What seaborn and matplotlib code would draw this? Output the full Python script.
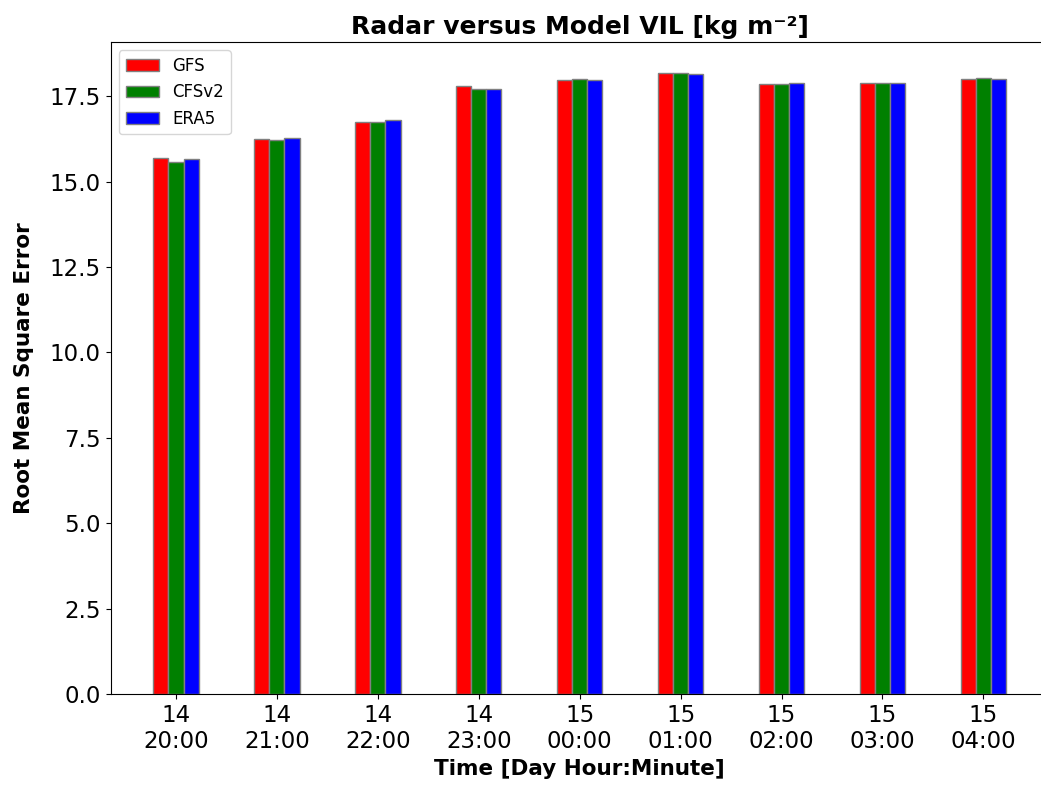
import matplotlib
matplotlib.use("Agg")
import matplotlib.pyplot as plt
import seaborn as sns
import pandas as pd

times = ["14\n20:00", "14\n21:00", "14\n22:00", "14\n23:00", "15\n00:00",
         "15\n01:00", "15\n02:00", "15\n03:00", "15\n04:00"]
models = ["GFS", "CFSv2", "ERA5"]
gfs = [15.70, 16.26, 16.75, 17.79, 17.97, 18.18, 17.86, 17.89, 18.00]
cfsv2 = [15.58, 16.22, 16.75, 17.72, 18.01, 18.18, 17.86, 17.89, 18.04]
era5 = [15.66, 16.29, 16.82, 17.72, 17.97, 18.15, 17.90, 17.89, 18.00]
colors = ["red", "green", "blue"]

rows = []
for m, vals in zip(models, [gfs, cfsv2, era5]):
    for t, v in zip(times, vals):
        rows.append({"time": t, "model": m, "rmse": v})
df = pd.DataFrame(rows)

fig = plt.figure(figsize=(10.41, 7.9), dpi=100)
ax = fig.add_axes([0.1063, 0.1215, 0.9011, 0.8253])
sns.barplot(data=df, x="time", y="rmse", hue="model", order=times, hue_order=models,
            palette=colors, width=0.45, saturation=1, edgecolor="grey", linewidth=1,
            errorbar=None, ax=ax)
ax.set_xlim(-0.6475, 8.6475)
ax.set_ylim(0, 19.09)
ax.spines["right"].set_visible(False)
ax.tick_params(axis="both", labelsize=16.5)
ax.set_xlabel("Time [Day Hour:Minute]", fontsize=15.5, fontweight="bold")
ax.set_ylabel("Root Mean Square Error", fontsize=15.5, fontweight="bold", labelpad=11)
ax.set_title("Radar versus Model VIL [kg m\u207b\u00b2]", fontsize=18, fontweight="bold")
ax.legend(loc="upper left", fontsize=12, title=None)
fig.savefig("out.png", dpi=100)
